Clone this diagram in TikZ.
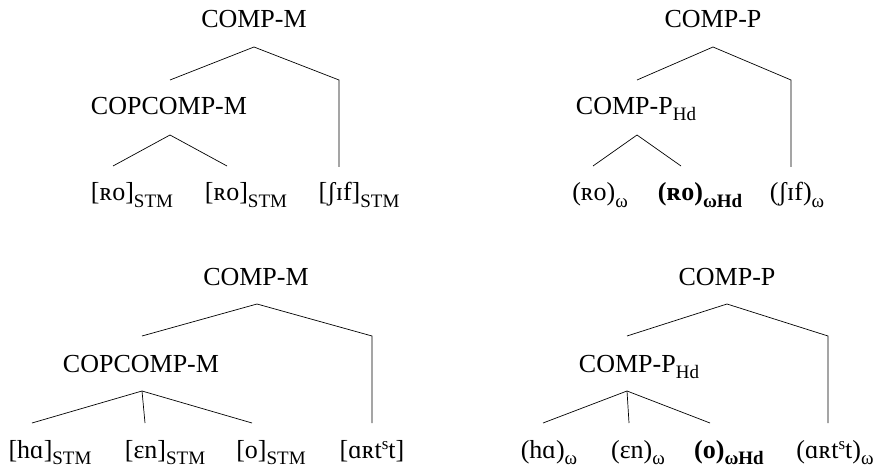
\documentclass[tikz,border=0pt]{standalone}
\usepackage{fontspec}
\setmainfont{Liberation Serif}
\newcommand\lsub[1]{\raisebox{-6pt}{\fontsize{19}{19}\selectfont #1}}
\newcommand\ssup[1]{\raisebox{9pt}{\fontsize{17}{17}\selectfont #1}}
\begin{document}
\begin{tikzpicture}[x=1pt,y=-1pt,
  lab/.style={anchor=base,inner sep=0pt,font=\fontsize{26}{30}\selectfont},
  br/.style={line width=0.7pt}]
\useasboundingbox (0,0) rectangle (877,470);
% ---------- top left ----------
\node[lab] (tlroot) at (254,28) {COMP-M};
\node[lab] (tlmid) at (169,115) {COPCOMP-M};
\node[lab] (tla) at (132,201) {[ʀo]\lsub{STM}};
\node[lab] (tlb) at (246,201) {[ʀo]\lsub{STM}};
\node[lab] (tlc) at (359,201) {[ʃɪf]\lsub{STM}};
\coordinate (tlA) at (254,47);
\coordinate (tlL) at (170,80);
\coordinate (tlR) at (339,80);
\coordinate (tlRe) at (339,167);
\coordinate (tlB) at (170,135);
\coordinate (tlBl) at (113,166);
\coordinate (tlBr) at (227,166);
\draw[br] (tlL) -- (tlA) -- (tlR) -- (tlRe);
\draw[br] (tlBl) -- (tlB) -- (tlBr);
% ---------- top right ----------
\node[lab] (trroot) at (713,28) {COMP-P};
\node[lab] (trmid) at (636,115) {COMP-P\lsub{Hd}};
\node[lab] (tra) at (600,201) {(ʀo)\lsub{ω}};
\node[lab] (trb) at (700,201) {\textbf{(ʀo)\lsub{ωHd}}};
\node[lab] (trc) at (797,201) {(ʃɪf)\lsub{ω}};
\coordinate (trA) at (713,47);
\coordinate (trL) at (637,80);
\coordinate (trR) at (791,80);
\coordinate (trRe) at (791,167);
\coordinate (trB) at (637,135);
\coordinate (trBl) at (593,166);
\coordinate (trBr) at (681,166);
\draw[br] (trL) -- (trA) -- (trR) -- (trRe);
\draw[br] (trBl) -- (trB) -- (trBr);
% ---------- bottom left ----------
\node[lab] (blroot) at (256,285) {COMP-M};
\node[lab] (blmid) at (141,372) {COPCOMP-M};
\node[lab] (bla) at (50,458) {[hɑ]\lsub{STM}};
\node[lab] (blb) at (165,458) {[ɛn]\lsub{STM}};
\node[lab] (blc) at (271,458) {[o]\lsub{STM}};
\node[lab] (bld) at (372,458) {[ɑʀt\ssup{s}t]};
\coordinate (blA) at (257,304);
\coordinate (blL) at (142,336);
\coordinate (blR) at (372,336);
\coordinate (blRe) at (372,423);
\coordinate (blB) at (142,391);
\coordinate (blBl) at (32,423);
\coordinate (blBm) at (145,423);
\coordinate (blBr) at (252,423);
\draw[br] (blL) -- (blA) -- (blR) -- (blRe);
\draw[br] (blBl) -- (blB) -- (blBr);
\draw[br] (blB) -- (blBm);
% ---------- bottom right ----------
\node[lab] (brroot) at (727,285) {COMP-P};
\node[lab] (brmid) at (639,372) {COMP-P\lsub{Hd}};
\node[lab] (bra) at (549,458) {(hɑ)\lsub{ω}};
\node[lab] (brb) at (638,458) {(ɛn)\lsub{ω}};
\node[lab] (brc) at (729,458) {\textbf{(o)\lsub{ωHd}}};
\node[lab] (brd) at (835,458) {(ɑʀt\ssup{s}t)\lsub{ω}};
\coordinate (brA) at (727,304);
\coordinate (brL) at (627,336);
\coordinate (brR) at (828,336);
\coordinate (brRe) at (828,423);
\coordinate (brB) at (627,391);
\coordinate (brBl) at (543,423);
\coordinate (brBm) at (629,423);
\coordinate (brBr) at (710,423);
\draw[br] (brL) -- (brA) -- (brR) -- (brRe);
\draw[br] (brBl) -- (brB) -- (brBr);
\draw[br] (brB) -- (brBm);
\end{tikzpicture}
\end{document}
